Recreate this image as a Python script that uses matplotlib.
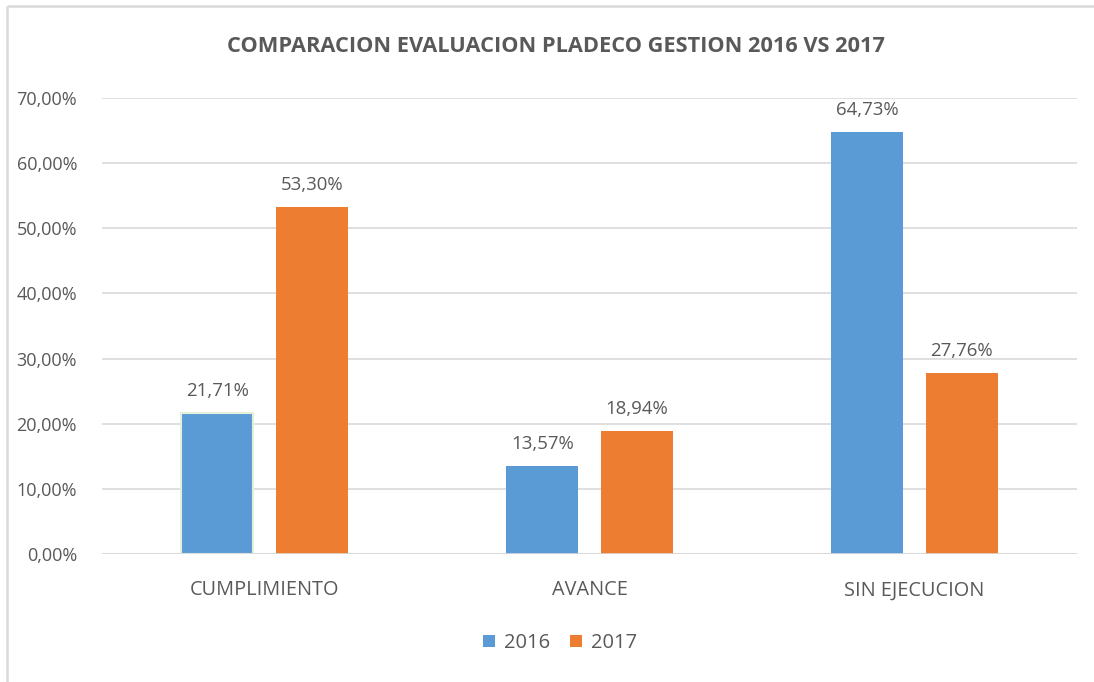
import matplotlib
matplotlib.use("Agg")
import matplotlib.pyplot as plt
import numpy as np
from matplotlib.patches import Patch
from matplotlib.lines import Line2D

categories = ["CUMPLIMIENTO", "AVANCE", "SIN EJECUCION"]
series_names = ["2016", "2017"]
values_2016 = [21.71, 13.57, 64.73]
values_2017 = [53.30, 18.94, 27.76]
yticks = [0, 10, 20, 30, 40, 50, 60, 70]

plt.rcParams['font.family'] = ['Open Sans', 'DejaVu Sans']
text_color = "#595959"
c2016 = "#5B9BD5"
c2017 = "#ED7D31"

fig = plt.figure(figsize=(10.94, 6.82), dpi=100)
W, H = 1094, 682
ax = fig.add_axes([102 / W, 1 - 554 / H, (1077 - 102) / W, (554 - 98) / H])

x = np.arange(len(categories))
bw = 0.222
off = 0.145
b1 = ax.bar(x - off, values_2016, bw, color=c2016, zorder=3)
b2 = ax.bar(x + off, values_2017, bw, color=c2017, zorder=3)
b1[0].set_edgecolor("#E2EFD9")
b1[0].set_linewidth(1.5)

for bars, vals in ((b1, values_2016), (b2, values_2017)):
    for b, v in zip(bars, vals):
        ax.text(b.get_x() + b.get_width() / 2, v + 2.0, f"{v:.2f}%".replace(".", ","),
                ha="center", va="bottom", fontsize=13.4, color=text_color)

ax.set_xlim(-0.5, 2.5)
ax.set_ylim(0, 70)
ax.set_yticks(yticks)
ax.set_yticklabels([f"{t:.2f}%".replace(".", ",") for t in yticks])
ax.set_xticks(x)
ax.set_xticklabels(categories)
ax.tick_params(axis="both", length=0, labelcolor=text_color)
ax.tick_params(axis="y", labelsize=13, pad=18)
ax.tick_params(axis="x", labelsize=14.3, pad=19)
ax.grid(axis="y", color="#D9D9D9", linewidth=1.2, zorder=0)
for s in ax.spines.values():
    s.set_visible(False)
ax.axhline(0, color="#D9D9D9", linewidth=1.2, zorder=4)

fig.text(556 / W, 1 - 47 / H, "COMPARACION EVALUACION PLADECO GESTION 2016 VS 2017",
         ha="center", va="center", fontsize=15.7, fontweight="bold", color=text_color)

handles = [Patch(facecolor=c2016), Patch(facecolor=c2017)]
fig.legend(handles=handles, labels=series_names, loc="center",
           bbox_to_anchor=(560 / W, 1 - 643 / H), ncol=2, frameon=False,
           fontsize=14.5, labelcolor=text_color, handlelength=0.6, handleheight=0.6,
           handletextpad=0.45, columnspacing=1.0)

fig.lines.append(Line2D([7 / W, 7 / W], [0, 1 - 6 / H], transform=fig.transFigure,
                        color="#D9D9D9", linewidth=1.8, solid_capstyle="butt"))
fig.lines.append(Line2D([7 / W, 1.01], [1 - 6 / H, 1 - 6 / H], transform=fig.transFigure,
                        color="#D9D9D9", linewidth=1.8, solid_capstyle="butt"))

fig.savefig("out.png", dpi=100)
